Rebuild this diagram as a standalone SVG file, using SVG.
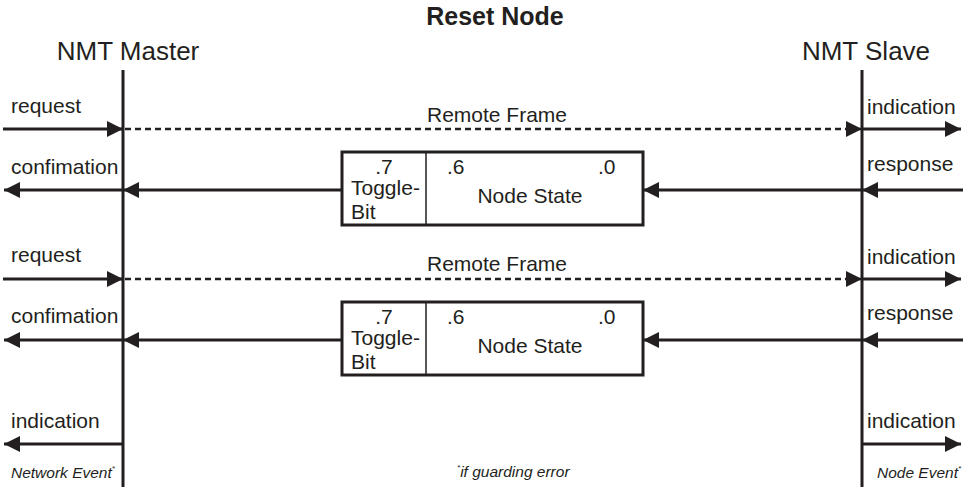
<svg xmlns="http://www.w3.org/2000/svg" width="965" height="487" viewBox="0 0 965 487">
<style>
text{font-family:"Liberation Sans",Arial,sans-serif;fill:#231f20}
.lbl{font-size:21px}
.hd{font-size:26px}
.ttl{font-size:25px;font-weight:bold}
.it{font-size:15.5px;font-style:italic}
.sup{font-size:8px}
.ln{stroke:#231f20;stroke-width:3;fill:none}
.dash{stroke:#231f20;stroke-width:2.5;fill:none;stroke-dasharray:6 4}
.box{stroke:#231f20;stroke-width:3;fill:#fff}
.div{stroke:#231f20;stroke-width:1.5}
</style>
<defs>
<marker id="ah" markerUnits="userSpaceOnUse" markerWidth="17" markerHeight="17" refX="16" refY="8" orient="auto">
<path d="M0,0 L16,8 L0,16 z" fill="#231f20"/>
</marker>
</defs>
<rect width="965" height="487" fill="#fff"/>
<text class="ttl" x="495" y="25" text-anchor="middle">Reset Node</text>
<g id="master">
<text class="hd" x="128" y="60" text-anchor="middle">NMT Master</text>
<line class="ln" x1="123" y1="70" x2="123" y2="487"/>
</g>
<g id="slave">
<text class="hd" x="866" y="60" text-anchor="middle">NMT Slave</text>
<line class="ln" x1="862" y1="70" x2="862" y2="487"/>
</g>
<g id="frame1">
<rect class="box" x="342" y="152" width="301" height="73"/>
<line class="div" x1="426" y1="152" x2="426" y2="225"/>
<text class="lbl" x="384" y="174" text-anchor="middle">.7</text>
<text class="lbl" x="351" y="195">Toggle-</text>
<text class="lbl" x="351" y="219">Bit</text>
<text class="lbl" x="447" y="174">.6</text>
<text class="lbl" x="598" y="174">.0</text>
<text class="lbl" x="530" y="203" text-anchor="middle">Node State</text>
</g>
<g id="frame2">
<rect class="box" x="342" y="302" width="301" height="73"/>
<line class="div" x1="426" y1="302" x2="426" y2="375"/>
<text class="lbl" x="384" y="324" text-anchor="middle">.7</text>
<text class="lbl" x="351" y="345">Toggle-</text>
<text class="lbl" x="351" y="369">Bit</text>
<text class="lbl" x="447" y="324">.6</text>
<text class="lbl" x="598" y="324">.0</text>
<text class="lbl" x="530" y="353" text-anchor="middle">Node State</text>
</g>
<g id="connectors">
<!-- row 1 -->
<line class="ln" x1="3" y1="129" x2="123" y2="129" marker-end="url(#ah)"/>
<line class="dash" x1="125" y1="129" x2="862" y2="129" marker-end="url(#ah)"/>
<line class="ln" x1="862" y1="129" x2="961" y2="129" marker-end="url(#ah)"/>
<line class="ln" x1="123" y1="190" x2="4" y2="190" marker-end="url(#ah)"/>
<line class="ln" x1="342" y1="190" x2="123" y2="190" marker-end="url(#ah)"/>
<line class="ln" x1="862" y1="190" x2="643" y2="190" marker-end="url(#ah)"/>
<line class="ln" x1="963" y1="190" x2="862" y2="190" marker-end="url(#ah)"/>
<!-- row 2 -->
<line class="ln" x1="3" y1="279" x2="123" y2="279" marker-end="url(#ah)"/>
<line class="dash" x1="125" y1="279" x2="862" y2="279" marker-end="url(#ah)"/>
<line class="ln" x1="862" y1="279" x2="961" y2="279" marker-end="url(#ah)"/>
<line class="ln" x1="123" y1="340" x2="4" y2="340" marker-end="url(#ah)"/>
<line class="ln" x1="342" y1="340" x2="123" y2="340" marker-end="url(#ah)"/>
<line class="ln" x1="862" y1="340" x2="643" y2="340" marker-end="url(#ah)"/>
<line class="ln" x1="963" y1="340" x2="862" y2="340" marker-end="url(#ah)"/>
<!-- row 3 -->
<line class="ln" x1="123" y1="444" x2="4" y2="444" marker-end="url(#ah)"/>
<line class="ln" x1="862" y1="444" x2="961" y2="444" marker-end="url(#ah)"/>
</g>
<g id="labels">
<text class="lbl" x="11" y="113">request</text>
<text class="lbl" x="497" y="122" text-anchor="middle">Remote Frame</text>
<text class="lbl" x="867" y="114">indication</text>
<text class="lbl" x="11" y="174">confimation</text>
<text class="lbl" x="867" y="171">response</text>
<text class="lbl" x="11" y="262">request</text>
<text class="lbl" x="497" y="271" text-anchor="middle">Remote Frame</text>
<text class="lbl" x="867" y="264">indication</text>
<text class="lbl" x="11" y="323">confimation</text>
<text class="lbl" x="867" y="320">response</text>
<text class="lbl" x="11" y="428">indication</text>
<text class="lbl" x="867" y="428">indication</text>
<text class="it" x="11" y="478">Network Event<tspan class="sup" dy="-7">*</tspan></text>
<text class="it" x="457" y="477"><tspan class="sup" dy="-7">*</tspan><tspan dy="7">if guarding error</tspan></text>
<text class="it" x="877" y="478">Node Event<tspan class="sup" dy="-7">*</tspan></text>
</g>
</svg>
